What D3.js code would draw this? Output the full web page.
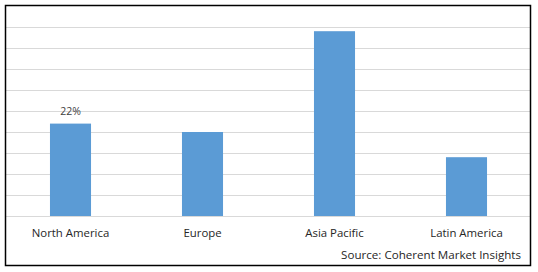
<!DOCTYPE html>
<html>
<head>
<meta charset="utf-8">
<script src="https://cdn.jsdelivr.net/npm/d3@7"></script>
<style>
  body { margin: 0; background: #fff; }
  svg text { font-family: "Open Sans", "Noto Sans", sans-serif; }
</style>
</head>
<body>
<div id="chart"></div>
<script>
// Data
var regions = ['North America', 'Europe', 'Asia Pacific', 'Latin America'];
var shares = [22, 20, 44, 14];
var labelled = ['North America'];
var yTicks = [0, 5, 10, 15, 20, 25, 30, 35, 40, 45];

var width = 538;
var height = 272;

var svg = d3.select('#chart')
  .append('svg')
  .attr('width', width)
  .attr('height', height);

// Scales
var xScale = d3.scaleBand()
  .domain(regions)
  .range([4.5, 532.5])
  .paddingInner(0.689)
  .paddingOuter(0.3445);

var yScale = d3.scaleLinear()
  .domain([0, 45])
  .range([216, 27]);

// Gridlines
svg.append('g')
  .selectAll('line')
  .data(yTicks)
  .enter().append('line')
  .attr('x1', 6)
  .attr('x2', 530)
  .attr('y1', (d) => Math.round(yScale(d)) + 0.5)
  .attr('y2', (d) => Math.round(yScale(d)) + 0.5)
  .attr('stroke', '#d9d9d9')
  .attr('stroke-width', 1);

// Bars
svg.append('g')
  .selectAll('rect')
  .data(regions)
  .enter().append('rect')
  .attr('x', (d) => xScale(d))
  .attr('width', xScale.bandwidth())
  .attr('y', (d, i) => yScale(shares[i]))
  .attr('height', (d, i) => yScale(0) - yScale(shares[i]))
  .attr('fill', '#5b9bd5');

// Value label
svg.append('g')
  .selectAll('text')
  .data(regions.filter((d) => labelled.indexOf(d) >= 0))
  .enter().append('text')
  .attr('x', (d) => xScale(d) + xScale.bandwidth() / 2)
  .attr('y', (d) => yScale(shares[regions.indexOf(d)]) - 9)
  .attr('text-anchor', 'middle')
  .style('font-size', '10.5px')
  .style('fill', '#404040')
  .text((d) => shares[regions.indexOf(d)] + '%');

// Category axis
var xAxis = d3.axisBottom(xScale).tickSize(0).tickPadding(0);
var gx = svg.append('g')
  .attr('transform', 'translate(0, 229)')
  .call(xAxis);
gx.select('.domain').remove();
gx.selectAll('text')
  .attr('dy', '0.71em')
  .style('font-size', '11.4px')
  .style('font-family', '"Open Sans", sans-serif')
  .style('fill', '#262626');

// Source note
svg.append('text')
  .attr('x', 521)
  .attr('y', 259)
  .attr('text-anchor', 'end')
  .style('font-size', '11.6px')
  .style('fill', '#262626')
  .text('Source: Coherent Market Insights');

// Border
svg.append('rect')
  .attr('x', 5.5)
  .attr('y', 5.5)
  .attr('width', 525)
  .attr('height', 260)
  .attr('fill', 'none')
  .attr('stroke', '#000')
  .attr('stroke-width', 1.5);
</script>
</body>
</html>
